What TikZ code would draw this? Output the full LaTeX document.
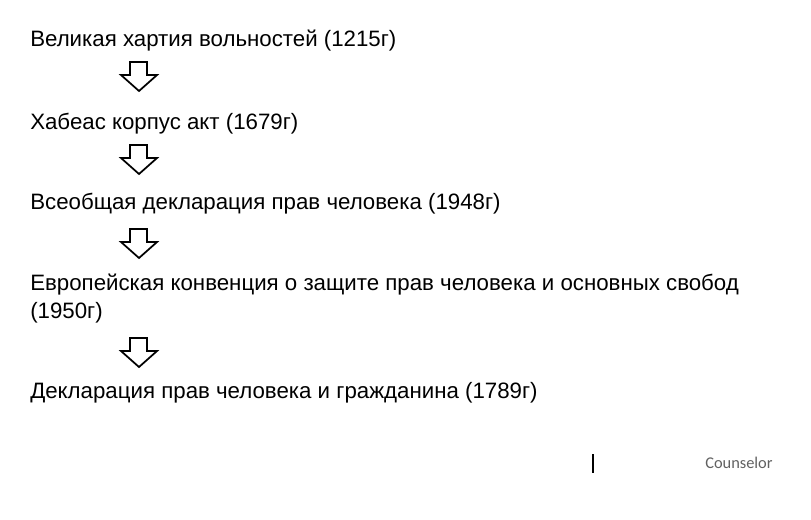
\documentclass[tikz,border=0pt]{standalone}
\usepackage{fontspec}
\setmainfont{Liberation Sans}
\newfontfamily\calib{Carlito}
\begin{document}
\begin{tikzpicture}[x=0.75pt,y=-0.75pt,
  line/.style={anchor=base west,inner sep=0pt,font=\fontsize{16.7pt}{20pt}\selectfont},
  blockarrow/.style={draw=black,line width=1.3pt,fill=white}]
\useasboundingbox (0,0) rectangle (811,519);
\node[line] (t1) at (30,46) {Великая хартия вольностей (1215г)};
\node[line] (t2) at (30,129) {Хабеас корпус акт (1679г)};
\node[line] (t3) at (30,209) {Всеобщая декларация прав человека (1948г)};
\node[line] (t4) at (30,290) {Европейская конвенция о защите прав человека и основных свобод};
\node[line] (t4b) at (30,318) {(1950г)};
\node[line] (t5) at (30,398) {Декларация прав человека и гражданина (1789г)};
\foreach \y in {62,145,229,338}{
  \draw[blockarrow] (130,\y) -- (147,\y) -- (147,\y+13) -- (157,\y+13) -- (139,\y+29) -- (121,\y+13) -- (130,\y+13) -- cycle;
}
\draw[line width=1pt] (593,454) -- (593,473);
\node[anchor=base west,inner sep=0pt,text=black!62,font=\calib\fontsize{12.3pt}{14pt}\selectfont] (c) at (705,468) {Counselor};
\end{tikzpicture}
\end{document}
